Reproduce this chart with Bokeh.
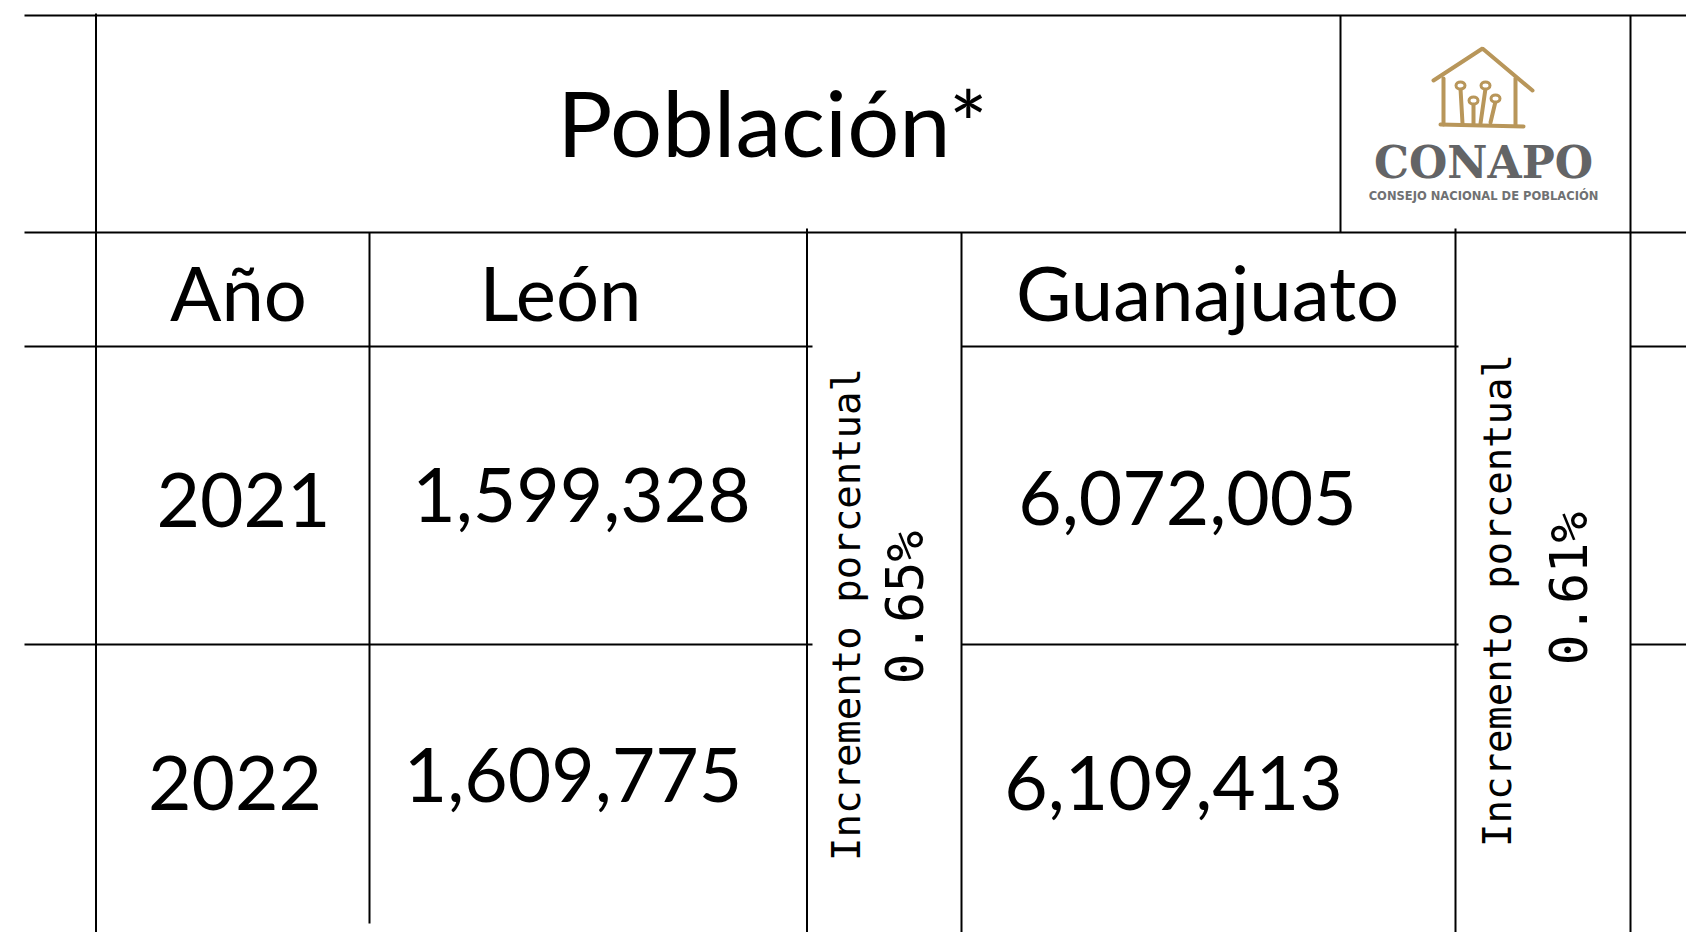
from bokeh.plotting import figure
from bokeh.models import Range1d, ColumnDataSource
from bokeh.core.properties import value
from bokeh.embed import file_html
from bokeh.resources import INLINE
import math

# ---- data ----
title = "Población*"
headers = ["Año", "León", "Guanajuato"]
years = ["2021", "2022"]
leon = [1599328, 1609775]
guanajuato = [6072005, 6109413]
incr_label = "Incremento porcentual"
incr_leon = 0.65
incr_gto = 0.61
logo_name = "CONAPO"
logo_sub = "CONSEJO NACIONAL DE POBLACIÓN"

# ---- layout (page pixel coordinates) ----
W, H = 1686, 932
p = figure(width=W, height=H, output_backend="svg", toolbar_location=None,
           x_range=Range1d(0, W), y_range=Range1d(H, 0),
           min_border=0, outline_line_color=None, background_fill_color="white")
p.xaxis.visible = False
p.yaxis.visible = False
p.grid.visible = False

FONT = value("Lato")
MONO = value("DejaVu Sans Mono")
LATO_MID = 0.385  # baseline offset of text centre, in em

# grid lines of the table
hseg = [[24, 1702], [24, 1702], [24, 812], [961, 1458], [1630, 1702],
        [24, 812], [961, 1458], [1630, 1702]]
hy = [15, 232, 346, 346, 346, 644, 644, 644]
vx = [95.5, 1340, 1630, 369, 806.5, 961, 1455]
vy = [[13, 942], [15, 232], [15, 942], [232, 923], [228, 939], [232, 947], [228, 939]]
xs = hseg + [[x, x] for x in vx]
ys = [[y, y] for y in hy] + vy
p.multi_line(xs=xs, ys=ys, line_color="black", line_width=2)

def put(x, y_base, texts, size, font=FONT, mid=LATO_MID, **kw):
    p.text(x=x, y=[b - mid * size for b in y_base], text=texts, text_font=font,
           text_font_size=f"{size}px", text_align="center", text_baseline="middle",
           text_color=kw.pop("color", "black"), **kw)

# title
put([772], [156], [title], 92)

# headers
put([238, 560, 1207], [320, 320, 320], headers, 76)

# rows
def fmt(v):
    return f"{v:,}"

put([243, 234.5], [528, 811], years, 75)
put([581, 572.5], [523, 803], [fmt(v) for v in leon], 75)
put([1187, 1173], [526, 811], [fmt(v) for v in guanajuato], 75)

# rotated increment labels
p.text(x=[846, 1497], y=[614, 600], text=[incr_label, incr_label], angle=math.pi / 2,
       text_font=MONO, text_font_size="39px", text_align="center",
       text_baseline="middle", text_color="black")
p.text(x=[905, 1569], y=[607, 588], text=[f"{incr_leon:.2f}%", f"{incr_gto:.2f}%"],
       angle=math.pi / 2, text_font=MONO, text_font_size="51px", text_align="center",
       text_baseline="middle", text_color="black")

# logo: house outline and keys
gold = "#B8965A"
house_x = [[1433, 1482, 1532], [1443, 1443], [1515, 1515], [1440, 1523],
           [1460, 1462], [1485, 1480], [1473, 1473], [1495, 1490]]
house_y = [[80, 48, 90], [78, 124], [78, 125], [124, 126],
           [88, 123], [88, 123], [103, 123], [101, 122]]
p.multi_line(xs=house_x, ys=house_y, line_color=gold, line_width=4, line_cap="round")
p.ellipse(x=[1460, 1485, 1473, 1495], y=[85, 85, 100, 98], width=9, height=7,
          fill_color="white", line_color=gold, line_width=3)

put([1483], [177], [logo_name], 44, font=value("DejaVu Serif"), mid=0.346,
    text_font_style="bold", color="#636466")
put([1483], [199.5], [logo_sub], 11.5, font=value("DejaVu Sans"), mid=0.346,
    text_font_style="bold", color="#707173")

open("out.html", "w").write(file_html(p, INLINE))
